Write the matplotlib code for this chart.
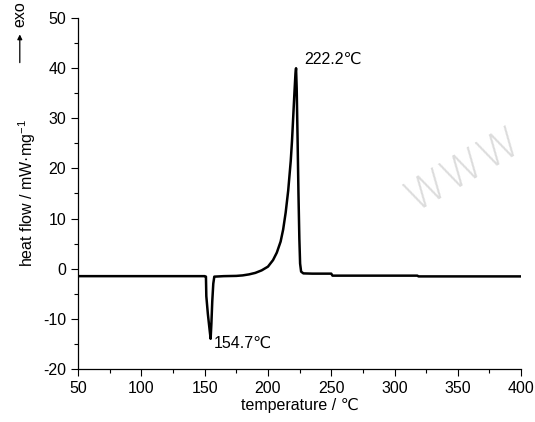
import matplotlib
matplotlib.use('Agg')
import matplotlib.pyplot as plt
from matplotlib.ticker import MultipleLocator

plt.rcParams['font.family'] = ['Liberation Sans', 'DejaVu Sans']
plt.rcParams['mathtext.fontset'] = 'custom'
plt.rcParams['mathtext.rm'] = 'Liberation Sans'
plt.rcParams['axes.unicode_minus'] = False

# DSC curve: temperature (℃) vs heat flow (mW/mg)
temperature = [50, 100, 150, 151, 151.3, 152.5, 153.8, 154.7, 155.3, 156.0,
               156.8, 157.6, 165, 175, 180, 185, 190, 195, 200, 204, 207,
               210, 212, 214, 216, 218, 219, 220, 221, 221.7, 222.2, 222.7,
               223.4, 224.1, 224.8, 225.4, 226.2, 228, 235, 250, 251, 318,
               319, 400]
heat_flow = [-1.5, -1.5, -1.5, -1.6, -5.5, -9.0, -12.0, -14.0, -11.0, -6.5,
             -3.0, -1.6, -1.5, -1.45, -1.35, -1.15, -0.85, -0.35, 0.4, 1.7,
             3.2, 5.4, 7.8, 11.2, 15.6, 21.5, 25.5, 30.5, 35.5, 38.8, 40.0,
             36.0, 26.0, 15.0, 6.0, 1.0, -0.6, -0.95, -1.0, -1.0, -1.4, -1.4,
             -1.55, -1.55]

peaks = [(222.2, 40.0, '222.2℃'), (154.7, -14.0, '154.7℃')]

fig = plt.figure(figsize=(5.35, 4.22), dpi=100)
ax = fig.add_axes([0.146, 0.126, 0.828, 0.831])
ax.plot(temperature, heat_flow, color='black', lw=1.8)

ax.set_xlim(50, 400)
ax.set_ylim(-20, 50)
ax.xaxis.set_major_locator(MultipleLocator(50))
ax.xaxis.set_minor_locator(MultipleLocator(25))
ax.yaxis.set_major_locator(MultipleLocator(10))
ax.yaxis.set_minor_locator(MultipleLocator(5))
ax.tick_params(which='both', direction='out', labelsize=11.5, width=0.8)
ax.tick_params(which='major', length=5)
ax.tick_params(which='minor', length=3)
for s in ['top', 'right']:
    ax.spines[s].set_visible(False)
for s in ['left', 'bottom']:
    ax.spines[s].set_linewidth(0.9)

ax.set_xlabel('temperature / ℃', fontsize=11.5, labelpad=2)
ax.set_ylabel('heat flow / mW·mg$^{-1}$', fontsize=11.5, labelpad=4)

ax.text(peaks[0][0] + 6.5, peaks[0][1] + 1.8, peaks[0][2], fontsize=11.5,
        va='center', ha='left')
ax.text(peaks[1][0] + 2.2, peaks[1][1] - 1.0, peaks[1][2], fontsize=11.5,
        va='center', ha='left')

# exo arrow at top-left
fig.text(0.037, 0.998, 'exo', rotation=90, fontsize=11.5, ha='center', va='top')
fig.add_artist(matplotlib.patches.FancyArrowPatch(
    (0.037, 0.845), (0.037, 0.925), transform=fig.transFigure,
    arrowstyle='-|>', mutation_scale=7, color='black', lw=0.9))

# watermark
fig.text(0.866, 0.598, 'WWW', fontsize=31, color='#dcdcdc', rotation=30,
         ha='center', va='center', fontfamily='DejaVu Sans',
         fontweight='ultralight')

fig.savefig('out.png', dpi=100)
